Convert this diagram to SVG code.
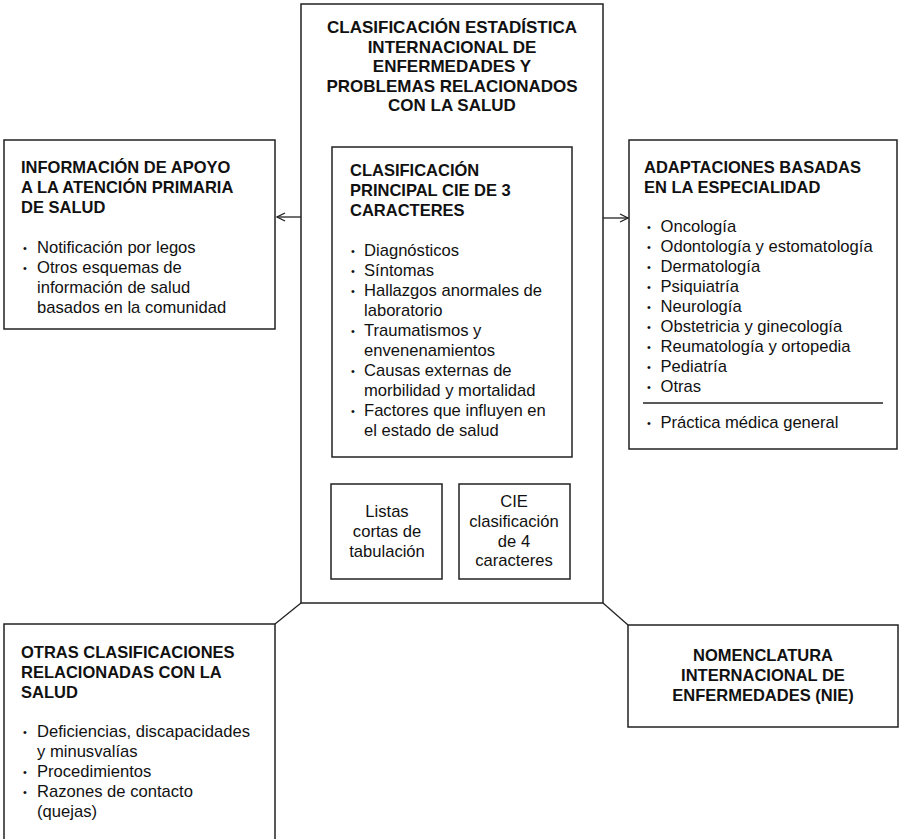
<svg xmlns="http://www.w3.org/2000/svg" width="900" height="839" viewBox="0 0 900 839">
<defs>
<style>
.box{fill:#fff;stroke:#222;stroke-width:1.5}
.ln{fill:none;stroke:#222;stroke-width:1.3}
.h{font-family:"Liberation Sans",Arial,sans-serif;font-weight:bold;font-size:16.5px;fill:#111}
.ti{font-size:17px}
.t{font-family:"Liberation Sans",Arial,sans-serif;font-size:16.6px;fill:#111}
.c{text-anchor:middle}
.b{font-family:"Liberation Sans",Arial,sans-serif;font-size:11px;fill:#111}
</style>
<marker id="arr" markerWidth="10" markerHeight="10" refX="9" refY="5" orient="auto" markerUnits="userSpaceOnUse">
<path d="M1,1 L9,5 L1,9" fill="none" stroke="#222" stroke-width="1.3"/>
</marker>
</defs>
<rect width="900" height="839" fill="#fff"/>

<g id="connectors">
<line class="ln" x1="301" y1="217" x2="277" y2="217" marker-end="url(#arr)"/>
<line class="ln" x1="603" y1="218" x2="628" y2="218" marker-end="url(#arr)"/>
<line class="ln" x1="384" y1="457" x2="384" y2="483" marker-end="url(#arr)"/>
<line class="ln" x1="513" y1="457" x2="513" y2="483" marker-end="url(#arr)"/>
<line class="ln" x1="301" y1="603" x2="275" y2="624"/>
<line class="ln" x1="603" y1="603" x2="628" y2="625"/>
</g>

<g id="main">
<rect class="box" x="301" y="4" width="302" height="599"/>
<text class="h ti c" x="452" y="33">CLASIFICACIÓN ESTADÍSTICA</text>
<text class="h ti c" x="452" y="52.5">INTERNACIONAL DE</text>
<text class="h ti c" x="452" y="72">ENFERMEDADES Y</text>
<text class="h ti c" x="452" y="91.5">PROBLEMAS RELACIONADOS</text>
<text class="h ti c" x="452" y="111">CON LA SALUD</text>
</g>

<g id="cie3">
<rect class="box" x="332" y="147" width="240" height="310"/>
<text class="h" x="350" y="176">CLASIFICACIÓN</text>
<text class="h" x="350" y="196">PRINCIPAL CIE DE 3</text>
<text class="h" x="350" y="215.5">CARACTERES</text>
<text class="b" x="351" y="255">•</text><text class="t" x="364" y="256">Diagnósticos</text>
<text class="b" x="351" y="275">•</text><text class="t" x="364" y="276">Síntomas</text>
<text class="b" x="351" y="295">•</text><text class="t" x="364" y="296">Hallazgos anormales de</text>
<text class="t" x="364" y="316">laboratorio</text>
<text class="b" x="351" y="335">•</text><text class="t" x="364" y="336">Traumatismos y</text>
<text class="t" x="364" y="356">envenenamientos</text>
<text class="b" x="351" y="375">•</text><text class="t" x="364" y="376">Causas externas de</text>
<text class="t" x="364" y="396">morbilidad y mortalidad</text>
<text class="b" x="351" y="415">•</text><text class="t" x="364" y="416">Factores que influyen en</text>
<text class="t" x="364" y="436">el estado de salud</text>
</g>

<g id="listas">
<rect class="box" x="331" y="484" width="111" height="95"/>
<text class="t c" x="387" y="517">Listas</text>
<text class="t c" x="387" y="537">cortas de</text>
<text class="t c" x="387" y="557">tabulación</text>
</g>

<g id="cie4">
<rect class="box" x="459" y="484" width="111" height="95"/>
<text class="t c" x="514" y="507">CIE</text>
<text class="t c" x="514" y="527">clasificación</text>
<text class="t c" x="514" y="547">de 4</text>
<text class="t c" x="514" y="566">caracteres</text>
</g>

<g id="apoyo">
<rect class="box" x="4" y="140" width="271" height="189"/>
<text class="h" x="21" y="172.5">INFORMACIÓN DE APOYO</text>
<text class="h" x="21" y="192.5">A LA ATENCIÓN PRIMARIA</text>
<text class="h" x="21" y="212.5">DE SALUD</text>
<text class="b" x="23" y="252">•</text><text class="t" x="37" y="253">Notificación por legos</text>
<text class="b" x="23" y="272">•</text><text class="t" x="37" y="273">Otros esquemas de</text>
<text class="t" x="37" y="293">información de salud</text>
<text class="t" x="37" y="313">basados en la comunidad</text>
</g>

<g id="adaptaciones">
<rect class="box" x="629" y="140" width="268" height="309"/>
<text class="h" x="644" y="173">ADAPTACIONES BASADAS</text>
<text class="h" x="644" y="192.5">EN LA ESPECIALIDAD</text>
<text class="b" x="647" y="231">•</text><text class="t" x="660.5" y="232">Oncología</text>
<text class="b" x="647" y="251">•</text><text class="t" x="660.5" y="252">Odontología y estomatología</text>
<text class="b" x="647" y="271">•</text><text class="t" x="660.5" y="272">Dermatología</text>
<text class="b" x="647" y="291">•</text><text class="t" x="660.5" y="292">Psiquiatría</text>
<text class="b" x="647" y="311">•</text><text class="t" x="660.5" y="312">Neurología</text>
<text class="b" x="647" y="331">•</text><text class="t" x="660.5" y="332">Obstetricia y ginecología</text>
<text class="b" x="647" y="351">•</text><text class="t" x="660.5" y="352">Reumatología y ortopedia</text>
<text class="b" x="647" y="371">•</text><text class="t" x="660.5" y="372">Pediatría</text>
<text class="b" x="647" y="391">•</text><text class="t" x="660.5" y="391.5">Otras</text>
<line class="ln" x1="643" y1="403" x2="883" y2="403"/>
<text class="b" x="647" y="427">•</text><text class="t" x="660.5" y="427.5">Práctica médica general</text>
</g>

<g id="otras">
<rect class="box" x="4" y="624" width="271" height="225"/>
<text class="h" x="21" y="658">OTRAS CLASIFICACIONES</text>
<text class="h" x="21" y="678">RELACIONADAS CON LA</text>
<text class="h" x="21" y="698">SALUD</text>
<text class="b" x="23" y="736">•</text><text class="t" x="37" y="737">Deficiencias, discapacidades</text>
<text class="t" x="37" y="757">y minusvalías</text>
<text class="b" x="23" y="776">•</text><text class="t" x="37" y="777">Procedimientos</text>
<text class="b" x="23" y="796">•</text><text class="t" x="37" y="797">Razones de contacto</text>
<text class="t" x="37" y="817">(quejas)</text>
</g>

<g id="nie">
<rect class="box" x="628" y="625" width="270" height="102"/>
<text class="h c" x="763" y="661">NOMENCLATURA</text>
<text class="h c" x="763" y="681">INTERNACIONAL DE</text>
<text class="h c" x="763" y="701">ENFERMEDADES (NIE)</text>
</g>
</svg>
